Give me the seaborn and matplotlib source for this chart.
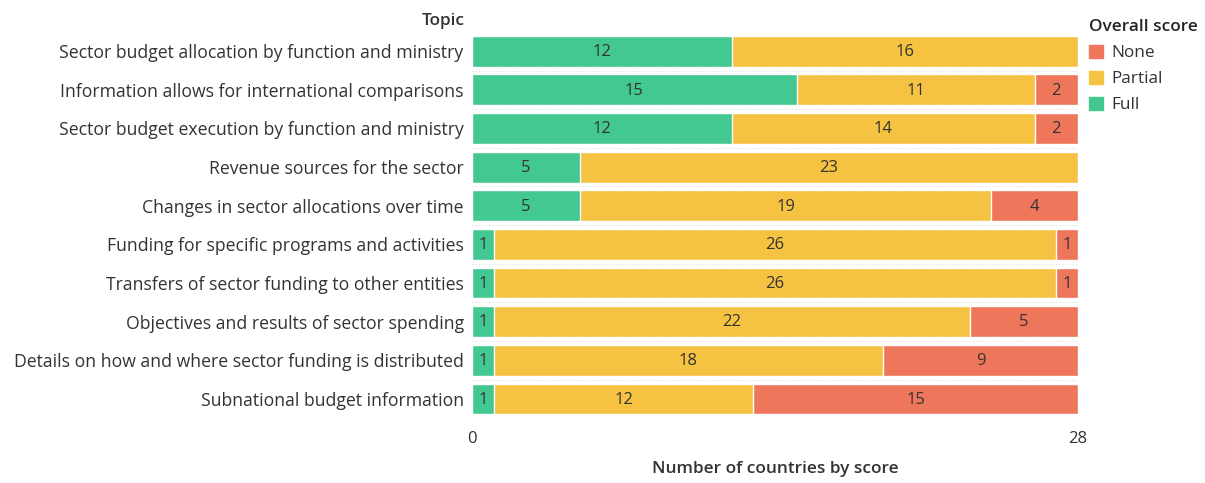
import numpy as np
import pandas as pd
import matplotlib.pyplot as plt
import seaborn as sns
from matplotlib.patches import Patch

topics = [
    "Sector budget allocation by function and ministry",
    "Information allows for international comparisons",
    "Sector budget execution by function and ministry",
    "Revenue sources for the sector",
    "Changes in sector allocations over time",
    "Funding for specific programs and activities",
    "Transfers of sector funding to other entities",
    "Objectives and results of sector spending",
    "Details on how and where sector funding is distributed",
    "Subnational budget information",
]
full = [12, 15, 12, 5, 5, 1, 1, 1, 1, 1]
partial = [16, 11, 14, 23, 19, 26, 26, 22, 18, 12]
none = [0, 2, 2, 0, 4, 1, 1, 5, 9, 15]

c_full = "#44C891"
c_partial = "#F5C242"
c_none = "#EE765A"

sns.set_style("white")
plt.rcParams['font.family'] = ['Open Sans', 'DejaVu Sans']

df = pd.DataFrame({"Topic": topics, "Full": full, "Partial": partial, "None": none})
df["FP"] = df["Full"] + df["Partial"]
df["Total"] = df["FP"] + df["None"]

fig = plt.figure(figsize=(12.05, 4.83), dpi=100)
ax = fig.add_axes([0.3917, 0.134, 0.5029, 0.80])

# stacked bars: draw cumulative totals, largest first
sns.barplot(data=df, x="Total", y="Topic", color=c_none, width=0.8, saturation=1, ax=ax)
sns.barplot(data=df, x="FP", y="Topic", color=c_partial, width=0.8, saturation=1, ax=ax)
sns.barplot(data=df, x="Full", y="Topic", color=c_full, width=0.8, saturation=1, ax=ax)

# segment labels
for i, row in df.iterrows():
    segs = [(0, row["Full"]), (row["Full"], row["Partial"]), (row["FP"], row["None"])]
    for start, val in segs:
        if val > 0:
            ax.text(start + val / 2, i + 0.02, str(val), ha="center", va="center",
                    fontsize=12, color="#333333")

# dotted row separators
for k in range(len(topics) - 1):
    ax.axhline(k + 0.5, color="#dddddd", lw=0.8, ls=(0, (1, 2)), zorder=0)

ax.set_xlim(0, 28)
ax.set_ylim(len(topics) - 0.5, -0.5)
ax.set_xticks([0, 28])
ax.set_xticklabels(["0", "28"], fontsize=12, color="#333333")
ax.tick_params(axis="x", length=0, pad=9)
ax.tick_params(axis="y", length=0, pad=6, labelsize=12.7, labelcolor="#333333")
ax.set_ylabel("")
ax.set_xlabel("Number of countries by score", fontsize=12.4, color="#333333",
              fontweight="semibold", labelpad=10)
sns.despine(ax=ax, left=True, bottom=True)

fig.text(0.386, 0.957, "Topic", ha="right", va="center", fontsize=12.4,
         fontweight="semibold", color="#333333")

handles = [Patch(color=c_none, label="None"),
           Patch(color=c_partial, label="Partial"),
           Patch(color=c_full, label="Full")]
leg = fig.legend(handles=handles, title="Overall score", loc="upper left",
                 bbox_to_anchor=(0.904, 0.96), frameon=False, fontsize=12.4,
                 title_fontsize=12.4, handlelength=0.8, handleheight=0.8,
                 handletextpad=0.5, labelspacing=0.55, borderaxespad=0,
                 borderpad=0)
leg.get_title().set_fontweight("semibold")
leg._legend_box.align = "left"
for t in leg.get_texts():
    t.set_color("#333333")

fig.savefig("out.png", dpi=100)
